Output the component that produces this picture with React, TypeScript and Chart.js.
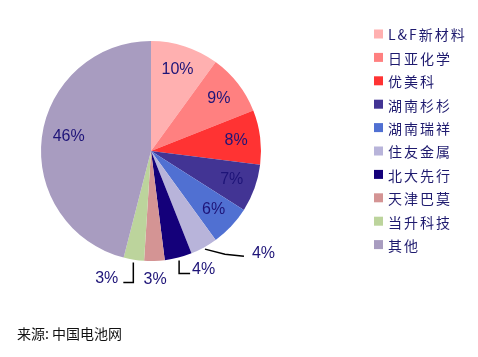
import React, { useEffect, useRef } from "react";
import { Chart, registerables } from "chart.js";

Chart.register(...registerables);

const categories = ["L&F新材料", "日亚化学", "优美科", "湖南杉杉", "湖南瑞祥", "住友金属", "北大先行", "天津巴莫", "当升科技", "其他"];
const shares = [10, 9, 8, 7, 6, 4, 4, 3, 3, 46];
const colors = ["#FFB0B0", "#FF8080", "#FF3333", "#423494", "#5070D2", "#B8B4DA", "#14007A", "#D49494", "#BCD49C", "#A89CC0"];
const sourceText = "来源: 中国电池网";

const LABEL_COLOR = "#1E1478";

const labelPlugin = {
  id: "customLabels",
  afterDraw(chart: any) {
    const ctx = chart.ctx;
    const meta = chart.getDatasetMeta(0);
    const data = chart.data.datasets[0].data as number[];
    ctx.save();
    ctx.font = "16px 'Liberation Sans', Arial, sans-serif";
    ctx.fillStyle = LABEL_COLOR;
    ctx.textBaseline = "middle";
    const pt = (arc: any, r: number, angOff = 0) => {
      const a = (arc.startAngle + arc.endAngle) / 2 + angOff;
      return { x: arc.x + Math.cos(a) * r, y: arc.y + Math.sin(a) * r };
    };
    meta.data.forEach((arc: any, i: number) => {
      const R = arc.outerRadius;
      const txt = data[i] + "%";
      ctx.strokeStyle = "#000";
      ctx.lineWidth = 1.5;
      if (i === 5) {
        const s = pt(arc, R + 2);
        const e1 = { x: s.x + 20, y: s.y + 5 };
        const e2 = { x: e1.x + 19, y: e1.y + 2 };
        ctx.beginPath();
        ctx.moveTo(s.x, s.y);
        ctx.lineTo(e1.x, e1.y);
        ctx.lineTo(e2.x, e2.y);
        ctx.stroke();
        ctx.textAlign = "left";
        ctx.fillText(txt, e2.x + 8, e2.y - 3);
      } else if (i === 6) {
        const s = pt(arc, R + 3);
        const yb = s.y + 13;
        ctx.beginPath();
        ctx.moveTo(s.x, s.y);
        ctx.lineTo(s.x, yb);
        ctx.lineTo(s.x + 11, yb);
        ctx.stroke();
        ctx.textAlign = "left";
        ctx.fillText(txt, s.x + 13, yb - 4);
      } else if (i === 7) {
        const p = pt(arc, R + 19);
        ctx.textAlign = "center";
        ctx.fillText(txt, p.x, p.y);
      } else if (i === 8) {
        const s = pt(arc, R + 3);
        const yb = s.y + 20;
        ctx.beginPath();
        ctx.moveTo(s.x, s.y);
        ctx.lineTo(s.x, yb);
        ctx.lineTo(s.x - 10, yb);
        ctx.stroke();
        ctx.textAlign = "right";
        ctx.fillText(txt, s.x - 15, yb - 4);
      } else {
        const p = i === 9 ? pt(arc, R * 0.76, 0.05) : pt(arc, R * 0.78);
        ctx.textAlign = "center";
        ctx.fillText(txt, p.x, p.y);
      }
    });

    // legend
    const labels = chart.data.labels as string[];
    const bg = chart.data.datasets[0].backgroundColor as string[];
    const lx = 374;
    const ly0 = 34;
    const step = 23.4;
    ctx.font = "14px 'Noto Sans CJK SC', 'Liberation Sans', sans-serif";
    (ctx as any).letterSpacing = "2px";
    ctx.textAlign = "left";
    ctx.textBaseline = "middle";
    labels.forEach((lab, i) => {
      const y = ly0 + i * step;
      ctx.fillStyle = bg[i];
      ctx.fillRect(lx, y - 4.5, 9, 9);
      ctx.fillStyle = "#1E1A6E";
      ctx.fillText(lab, lx + 14, y + 1);
    });
    (ctx as any).letterSpacing = "0px";

    ctx.font = "14px 'Noto Sans CJK SC', 'Liberation Sans', sans-serif";
    ctx.fillStyle = "#111";
    ctx.fillText(sourceText, 17, 334);
    ctx.restore();
  },
};

export default function App() {
  const ref = useRef<HTMLCanvasElement | null>(null);
  useEffect(() => {
    document.body.style.margin = "0";
    const canvas = ref.current;
    if (!canvas) return;
    const chart = new Chart(canvas, {
      type: "pie",
      data: {
        labels: categories,
        datasets: [
          {
            data: shares,
            backgroundColor: colors,
            borderWidth: 0,
          },
        ],
      },
      options: {
        responsive: false,
        animation: false,
        layout: { padding: { left: 41, top: 41, right: 217, bottom: 96 } },
        plugins: {
          legend: { display: false },
          tooltip: { enabled: false },
        },
      },
      plugins: [labelPlugin],
    });
    return () => chart.destroy();
  }, []);
  return (
    <div style={{ width: 478, height: 357, background: "#fff" }}>
      <canvas ref={ref} width={478} height={357} />
    </div>
  );
}
